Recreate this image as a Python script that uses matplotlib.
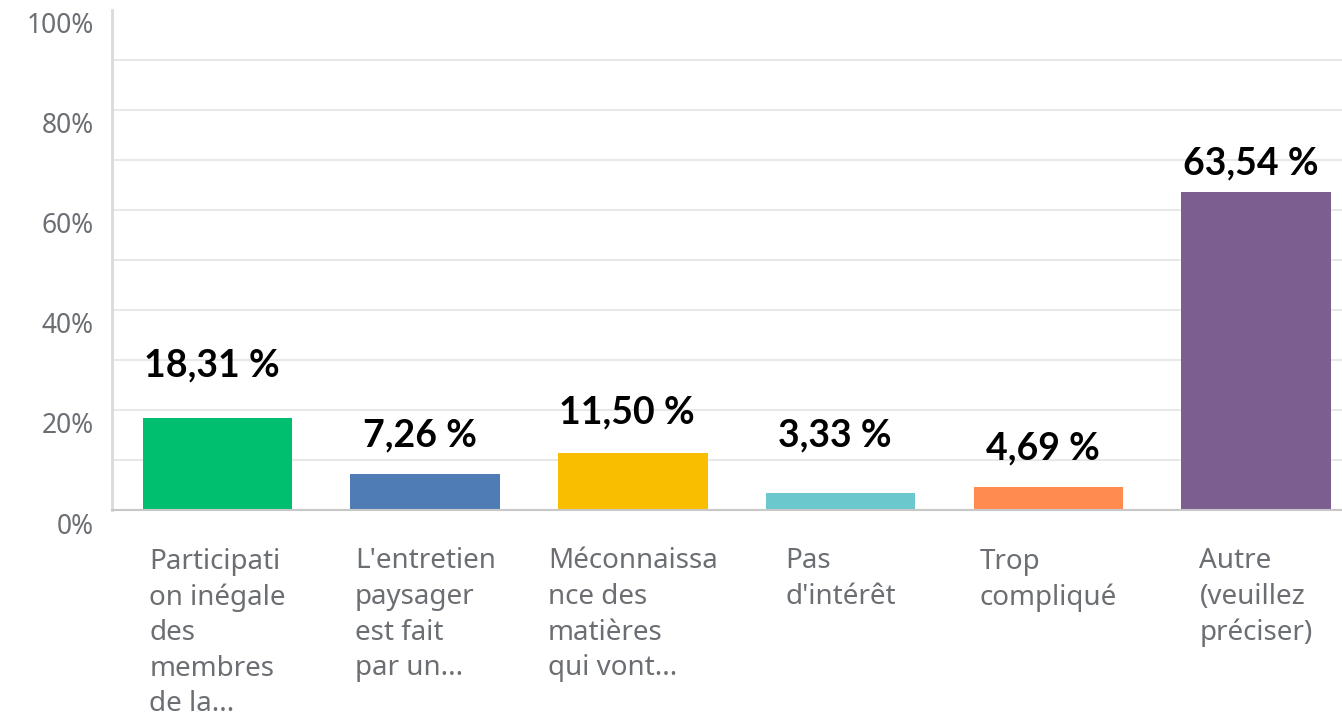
import matplotlib
matplotlib.use("Agg")
import matplotlib.pyplot as plt
from matplotlib.transforms import ScaledTranslation

categories = [
    "Participati\non inégale\ndes\nmembres\nde la...",
    "L'entretien\npaysager\nest fait\npar un...",
    "Méconnaissa\nnce des\nmatières\nqui vont...",
    "Pas\nd'intérêt",
    "Trop\ncompliqué",
    "Autre\n(veuillez\npréciser)",
]
values = [18.31, 7.26, 11.50, 3.33, 4.69, 63.54]
value_labels = ["18,31 %", "7,26 %", "11,50 %", "3,33 %", "4,69 %", "63,54 %"]
label_y = [29.0, 15.0, 19.6, 15.0, 12.4, 69.4]
colors = ["#00bf6f", "#507cb6", "#f9be00", "#6bc8cd", "#ff8b4f", "#7d5e90"]
yticks = [0, 20, 40, 60, 80, 100]
ytick_labels = ["0%", "20%", "40%", "60%", "80%", "100%"]
minor_ticks = [10, 30, 50, 70, 90]

fig = plt.figure(figsize=(13.42, 7.12), dpi=100)
ax = fig.add_axes([112 / 1342, 202 / 712, 1230 / 1342, 500 / 712])

x = list(range(len(values)))
ax.bar(x, values, width=0.72, color=colors, zorder=3)

ax.set_xlim(-0.508, 5.414)
ax.set_ylim(0, 100)

ax.set_yticks(yticks)
ax.set_yticklabels(ytick_labels, fontsize=19, color="#6b6e72", family="Noto Sans")
ax.set_yticks(minor_ticks, minor=True)
ax.tick_params(axis="y", which="both", length=0, pad=13)
ax.grid(axis="y", which="both", color="#e8e8e8", linewidth=1.5, zorder=0)
ax.yaxis.get_gridlines()[-1].set_visible(False)
for lbl in ax.get_yticklabels():
    lbl.set_transform(lbl.get_transform() + ScaledTranslation(0, -13 / 100, fig.dpi_scale_trans))

ax.set_xticks(x)
ax.set_xticklabels(categories, fontsize=20, color="#6b6e72", family="Noto Sans",
                   ha="center", multialignment="left", linespacing=1.36)
ax.tick_params(axis="x", length=0, pad=27)

for s in ["top", "right"]:
    ax.spines[s].set_visible(False)
ax.spines["left"].set_color("#dadada")
ax.spines["left"].set_linewidth(2)
ax.spines["bottom"].set_color("#c8c8c8")
ax.spines["bottom"].set_linewidth(1.5)
ax.spines["bottom"].set_zorder(4)

for xi, ly, txt in zip(x, label_y, value_labels):
    ax.annotate(txt, (xi, ly), xytext=(-4, 0), textcoords="offset points",
                ha="center", va="center", fontsize=27, fontweight="bold",
                family="Lato", color="black", zorder=5)

fig.savefig("out.png", dpi=100)
